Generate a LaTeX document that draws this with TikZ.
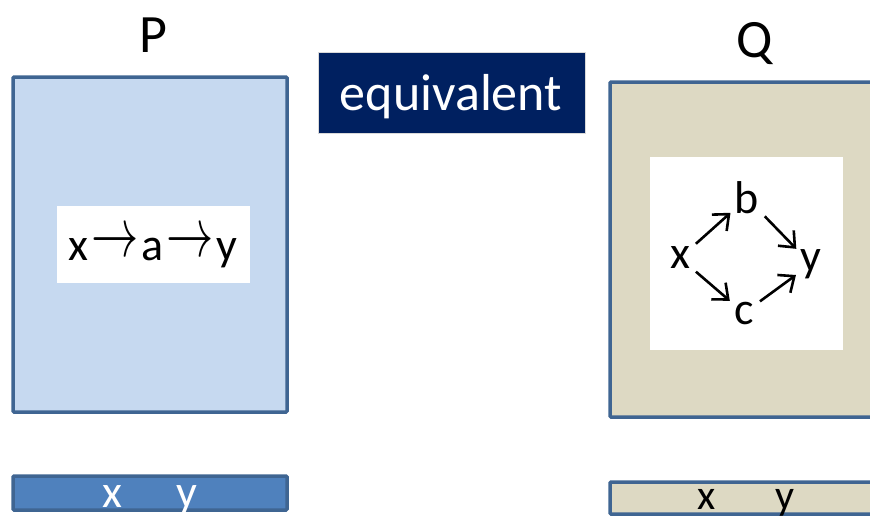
\documentclass[tikz,border=0pt]{standalone}
\usepackage{fontspec}
\setmainfont{Carlito}
\usepackage{xcolor}
\usepackage{graphicx}
\usetikzlibrary{arrows.meta}
\definecolor{frameblue}{HTML}{3F6592}
\definecolor{paleblue}{HTML}{C6D9F0}
\definecolor{barblue}{HTML}{4F81BD}
\definecolor{navy}{HTML}{002060}
\definecolor{khaki}{HTML}{DDD9C3}
\newcommand{\chainarrow}{\kern3pt\raisebox{4pt}{\scalebox{1.9}[2.8]{$\rightarrow$}}\kern3pt}

\begin{document}
\begin{tikzpicture}[x=1pt,y=-1pt,
  frame/.style={draw=frameblue,line width=3.5pt,rounded corners=1pt},
  big/.style={font=\fontsize{54}{54}\selectfont,inner sep=0pt},
  word/.style={font=\fontsize{46}{46}\selectfont,inner sep=2pt},
  link/.style={-{Straight Barb[length=13pt,width=22pt,line width=2.6pt]},line width=2.6pt,shorten <=5pt,shorten >=3pt}]
\useasboundingbox (0,0) rectangle (870,520);

% left side
\node[big,anchor=base] (P) at (153,52) {P};
\draw[frame,fill=paleblue] (13,77) rectangle (287,412);
\fill[white] (57,206) rectangle (250,283);
\node[word,anchor=base] (pchain) at (153,260) {x\chainarrow a\chainarrow y};
\draw[frame,fill=barblue] (13,476) rectangle (287,510);
\node[word,anchor=base,text=white] (px) at (112,507) {x};
\node[word,anchor=base,text=white] (py) at (187,507) {y};

% middle
\draw[draw=black!15,fill=navy] (318,52) rectangle (585,133);
\node[anchor=base,text=white,font=\fontsize{52}{52}\selectfont] (eq) at (451,110) {equivalent};

% right side
\node[big,anchor=base] (Q) at (755,57) {Q};
\draw[frame,fill=khaki] (610,82) rectangle (885,417);
\fill[white] (650,157) rectangle (843,350);
\node[word] (x) at (680,258) {x};
\node[word] (b) at (747,198) {b};
\node[word] (c) at (744,313) {c};
\node[word] (y) at (811,264) {y};
\draw[link] (x) -- (b);
\draw[link] (b) -- (y);
\draw[link] (x) -- (c);
\draw[link] (c) -- (y);
\draw[frame,fill=khaki] (610,482) rectangle (885,514);
\node[anchor=base,font=\fontsize{42}{42}\selectfont] (qx) at (707,509) {x};
\node[anchor=base,font=\fontsize{42}{42}\selectfont] (qy) at (785,509) {y};
\end{tikzpicture}
\end{document}
